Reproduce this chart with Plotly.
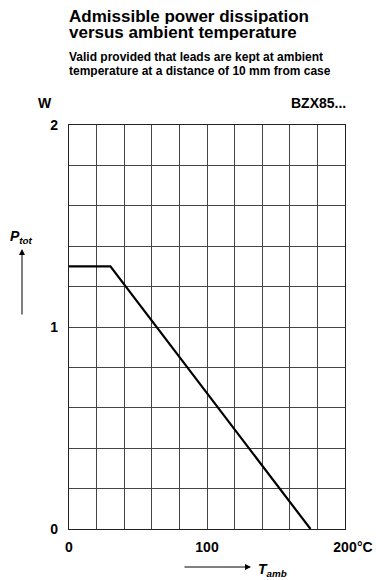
import plotly.graph_objects as go

# curve: admissible power dissipation (W) vs ambient temperature (degC)
t_amb = [0, 30, 175]
p_tot = [1.3, 1.3, 0]

x_grid = list(range(0, 201, 20))
x_labels = ["0", "", "", "", "", "100", "", "", "", "", "200"]
y_grid = [round(0.2 * i, 1) for i in range(11)]
y_labels = ["0", "", "", "", "", "1", "", "", "", "", "2"]

fnt = "Liberation Sans, Arial, sans-serif"

fig = go.Figure()
fig.add_trace(go.Scatter(x=t_amb, y=p_tot, mode="lines",
                         line=dict(color="black", width=2.2), hoverinfo="skip"))

fig.update_layout(
    width=376, height=580,
    margin=dict(l=69, r=31, t=125, b=51),
    paper_bgcolor="white", plot_bgcolor="white",
    showlegend=False,
    font=dict(family=fnt, color="black"),
    xaxis=dict(range=[0, 200], tickvals=x_grid, ticktext=x_labels,
               showgrid=True, gridcolor="#444", gridwidth=1,
               zeroline=False, showline=True, linecolor="#222", mirror=True,
               linewidth=1.2, ticks="", ticklabelstandoff=5,
               tickfont=dict(size=14, family=fnt, weight="bold")),
    yaxis=dict(range=[0, 2], tickvals=y_grid, ticktext=y_labels,
               showgrid=True, gridcolor="#444", gridwidth=1,
               zeroline=False, showline=True, linecolor="#222", mirror=True,
               linewidth=1.2, ticks="", ticklabelstandoff=7,
               tickfont=dict(size=14, family=fnt, weight="bold")),
)

def px(x, y):
    # pixel position -> paper coordinates
    return (x - 69) / 276, (529 - y) / 404

# text, x, y, size, anchor, box height
notes = [
    ("<b>Admissible power dissipation</b>", 67, 15.5, 17, "left", 16),
    ("<b>versus ambient temperature</b>", 67, 32, 17, "left", 16),
    ("<b>Valid provided that leads are kept at ambient</b>", 67, 56.5, 12, "left", 13),
    ("<b>temperature at a distance of 10 mm from case</b>", 67, 70, 12, "left", 13),
    ("<b>W</b>", 45, 103, 14, "center", None),
    ("<b>BZX85...</b>", 348, 103, 14, "right", None),
    ("<b>°C</b>", 375, 547, 14, "right", None),
    ("<b><i>P<sub>tot</sub></i></b>", 21, 237, 14, "center", None),
    ("<b><i>T<sub>amb</sub></i></b>", 256, 570, 14, "left", None),
]
for txt, x, y, s, xa, h in notes:
    xp, yp = px(x, y)
    fig.add_annotation(text=txt, x=xp, y=yp, xref="paper", yref="paper",
                       xanchor=xa, yanchor="middle", showarrow=False, height=h,
                       font=dict(size=s, family=fnt, color="black"))

# arrows next to the axis names (tail offset in pixels)
hx, hy = px(22, 249)
fig.add_annotation(x=hx, y=hy, ax=0, ay=67, xref="paper", yref="paper",
                   axref="pixel", ayref="pixel", showarrow=True, text="",
                   arrowhead=2, arrowsize=1.2, arrowwidth=1, arrowcolor="black")
hx, hy = px(251, 567)
fig.add_annotation(x=hx, y=hy, ax=-68, ay=0, xref="paper", yref="paper",
                   axref="pixel", ayref="pixel", showarrow=True, text="",
                   arrowhead=2, arrowsize=1.2, arrowwidth=1, arrowcolor="black")

# drop the default 8px body margin so the figure fills the window
fig.write_html("out.html", config={"displayModeBar": False},
               post_script="document.body.style.margin='0px';")
